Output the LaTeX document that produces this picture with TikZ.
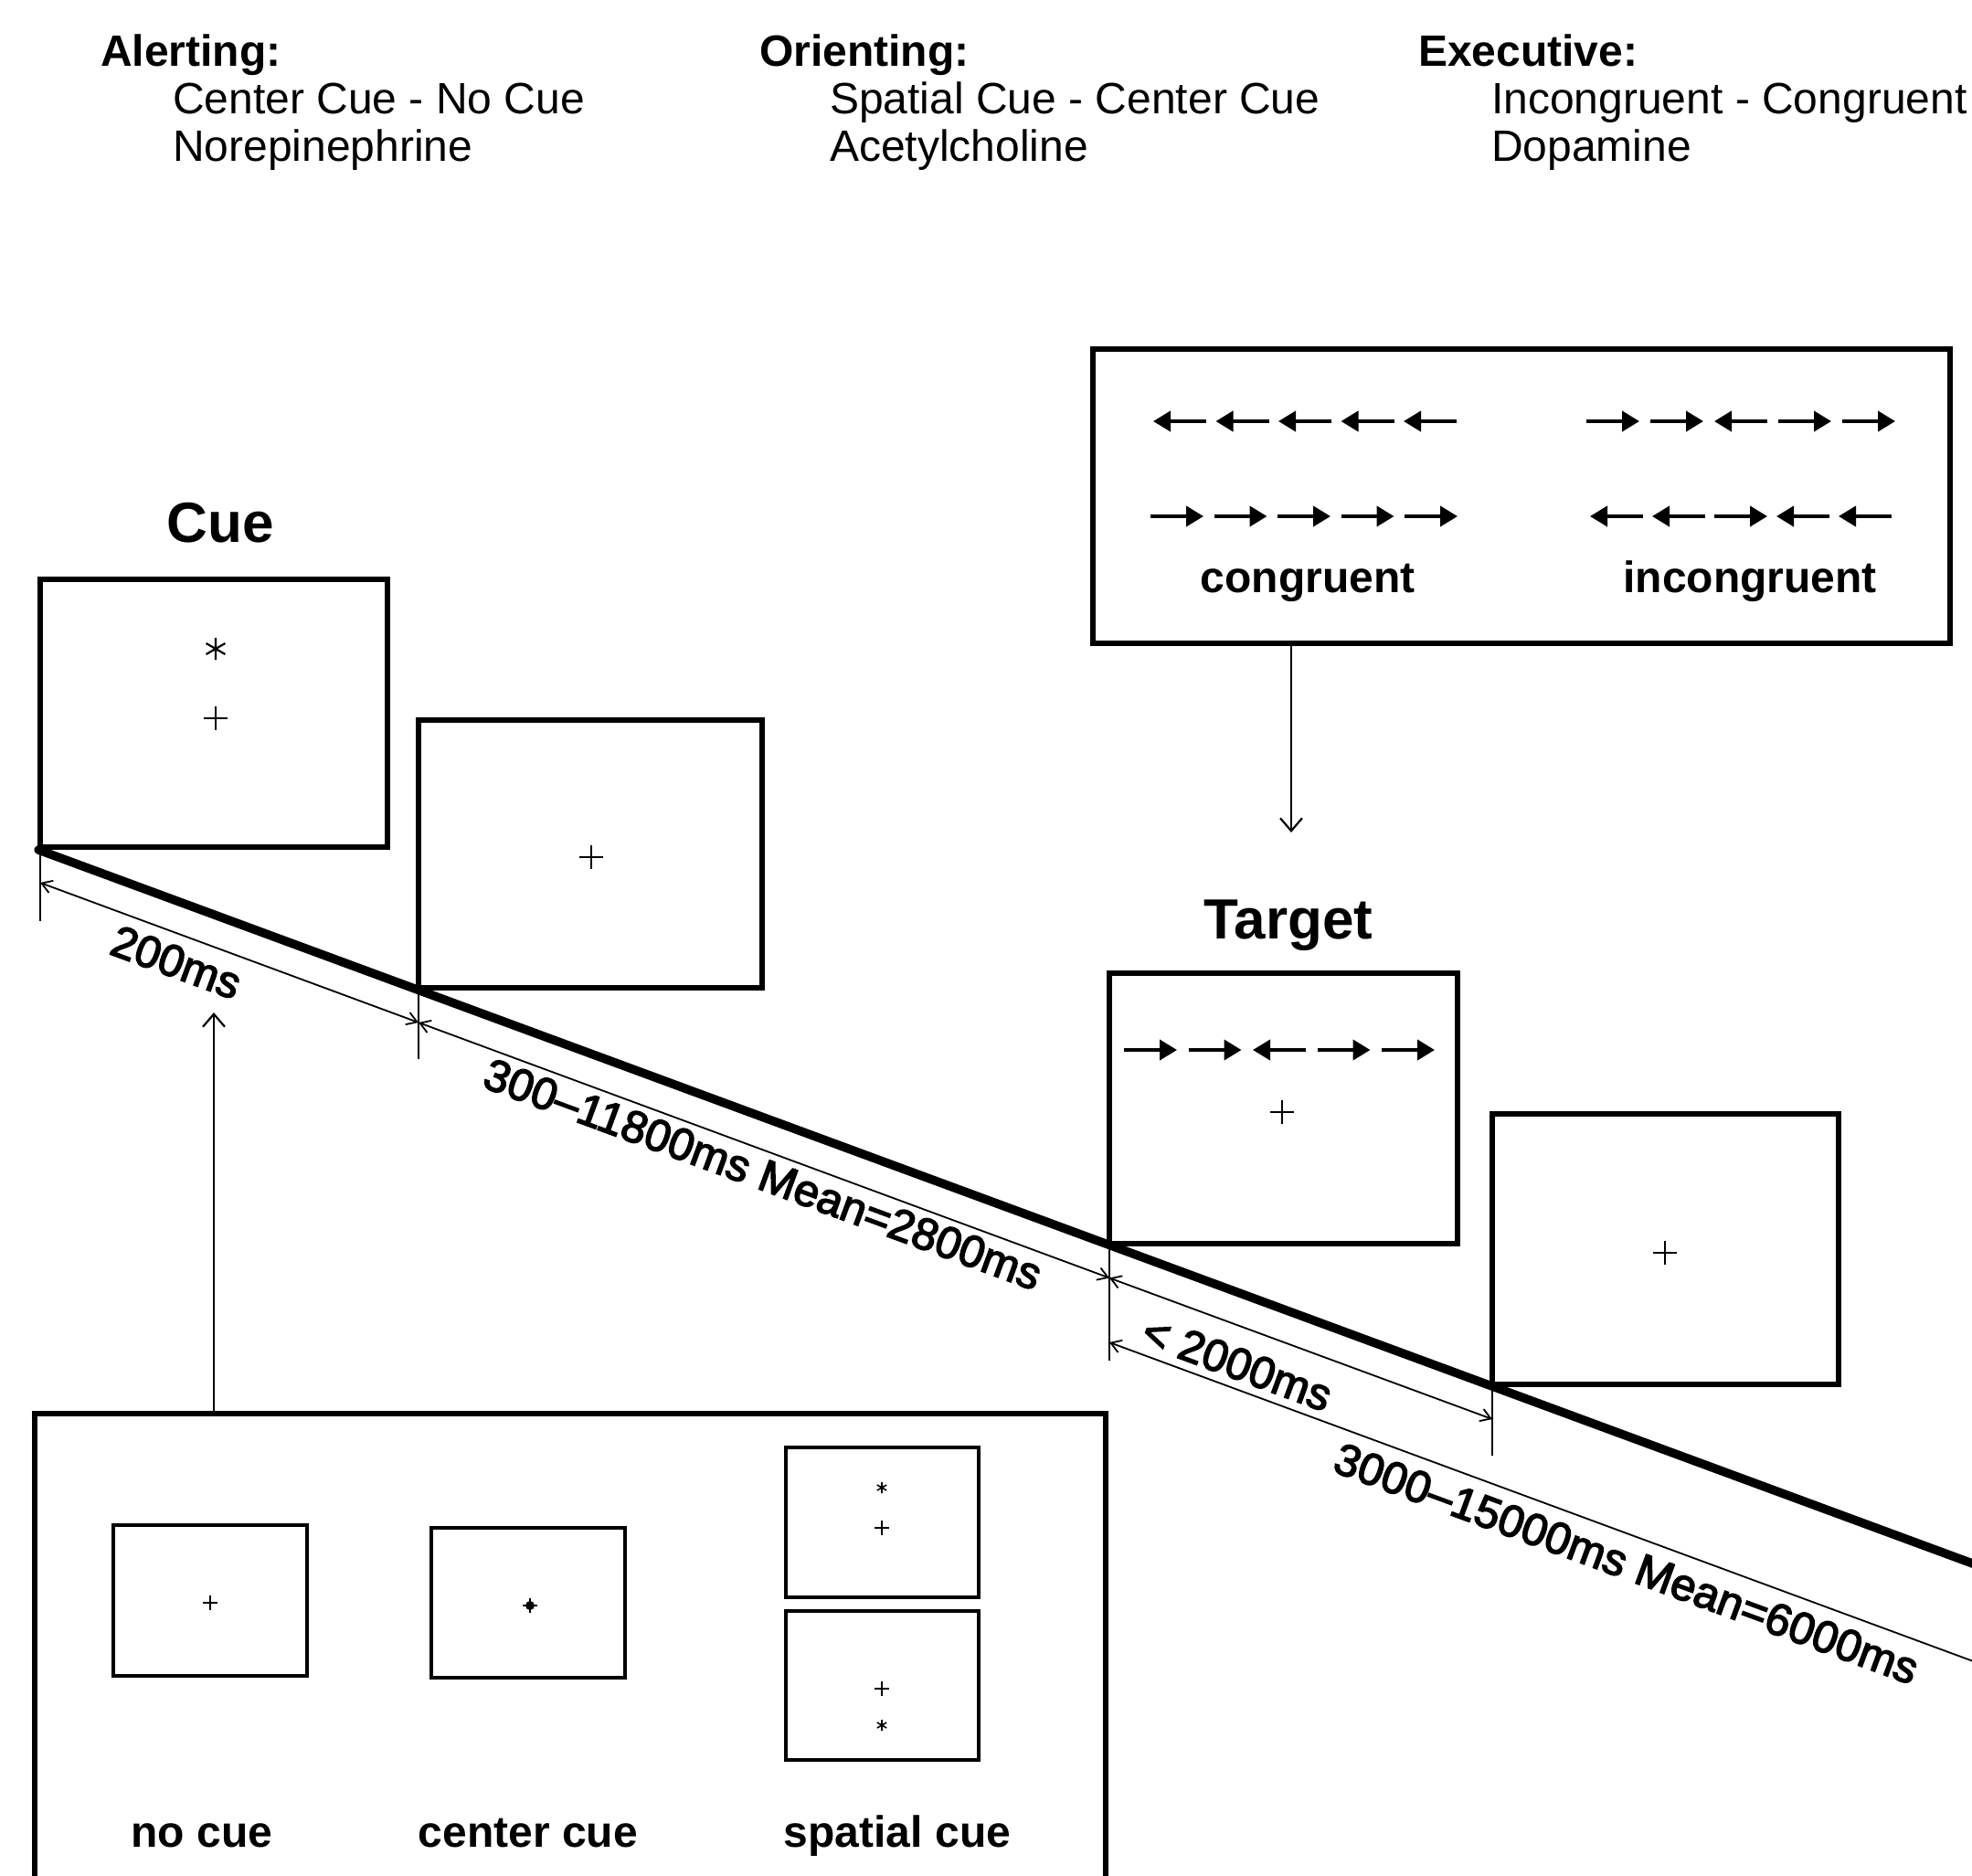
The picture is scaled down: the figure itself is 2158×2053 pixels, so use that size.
\documentclass[tikz,border=0pt]{standalone}
\usepackage{fontspec}
\setmainfont{Liberation Sans}
\newfontfamily\medfont[FakeBold=3]{Liberation Sans}
\usetikzlibrary{arrows.meta}
\newcommand\drawplus[4]{\draw[line width=#4] (#1,#2) +(-#3,0) -- +(#3,0) +(0,-#3) -- +(0,#3);}
\newcommand\drawast[4]{\draw[line width=#4] (#1,#2) +(90:#3) -- +(270:#3) +(30:#3) -- +(210:#3) +(150:#3) -- +(330:#3);}
\newcommand\flankrow[4]{\foreach \d [count=\i from 0] in {#4} {\draw[flk] ({#1+\i*#3-(\d)*29},#2) -- ({#1+\i*#3+(\d)*29},#2);}}
\tikzset{
  stim/.style={draw, line width=5.5pt, inner sep=0pt, outer sep=0pt, anchor=north west},
  smallbox/.style={stim, line width=4pt},
  flk/.style={line width=4pt, -{Triangle[length=19pt,width=22pt]}},
  conn/.style={line width=2.2pt, -{Straight Barb[length=14pt,width=24pt]}},
  dimline/.style={line width=1.8pt, >={Straight Barb[length=11pt,width=14pt]}, <->},
  dimleft/.style={line width=1.8pt, >={Straight Barb[length=11pt,width=14pt]}, <-},
  tick/.style={line width=2pt},
  timeline/.style={line width=9.5pt, line cap=round},
  hd/.style={font=\fontsize{48}{52}\selectfont, inner sep=0pt, anchor=base west},
  lbl/.style={font=\fontsize{48}{52}\selectfont\bfseries, inner sep=0pt, anchor=base},
  biglbl/.style={font=\fontsize{62}{70}\selectfont\bfseries, inner sep=0pt, anchor=base},
  dimlbl/.style={font=\medfont\fontsize{49}{52}\selectfont, inner sep=0pt, rotate=-20.25}
}
\begin{document}
\begin{tikzpicture}[x=1pt,y=-1pt]
\fill[white] (0,0) rectangle (2158,2053);
\useasboundingbox (0,0) rectangle (2158,2053);
\clip (0,0) rectangle (2158,2053);

% header texts
\node[hd] (alert) at (110,72) {\bfseries Alerting:};
\node[hd] (alert1) at (189,124) {Center Cue - No Cue};
\node[hd] (alert2) at (189,176) {Norepinephrine};
\node[hd] (orient) at (831,72) {\bfseries Orienting:};
\node[hd] (orient1) at (908,124) {Spatial Cue - Center Cue};
\node[hd] (orient2) at (908,176) {Acetylcholine};
\node[hd] (exec) at (1552,72) {\bfseries Executive:};
\node[hd] (exec1) at (1632,124) {Incongruent - Congruent};
\node[hd] (exec2) at (1632,176) {Dopamine};

% timeline points
\coordinate (L0) at (42,930);
\coordinate (L1) at (458,1083.5);
\coordinate (L2) at (1214,1362.5);
\coordinate (L3) at (1633,1517);
\coordinate (Lend) at (2200,1726.3);

% stimulus boxes
\node[stim, minimum width=380pt, minimum height=293pt] (cuebox) at (44,634) {};
\node[stim, minimum width=376pt, minimum height=293pt] (box2) at (458,788) {};
\node[stim, minimum width=381pt, minimum height=296pt] (tgtbox) at (1214,1065) {};
\node[stim, minimum width=379pt, minimum height=296pt] (box4) at (1633,1219) {};
\node[stim, minimum width=938pt, minimum height=322pt] (flanker) at (1196,382) {};
\node[stim, minimum width=1172pt, minimum height=560pt] (cuetypes) at (38,1547) {};

% labels
\node[biglbl] (cuelbl) at (241,593) {Cue};
\node[biglbl] (tgtlbl) at (1410,1027) {Target};

% box contents
\drawast{236}{710}{12}{2.2pt}
\drawplus{236}{786}{13}{2.2pt}
\drawplus{647}{938}{13}{2.2pt}
\drawplus{1403}{1217}{13}{2.2pt}
\drawplus{1822}{1371}{13}{2.2pt}
\flankrow{1259}{1149}{70.5}{1,1,-1,1,1}

% flanker panel
\flankrow{1291}{461}{68.5}{-1,-1,-1,-1,-1}
\flankrow{1288}{565}{69.5}{1,1,1,1,1}
\flankrow{1765}{461}{70}{1,1,-1,1,1}
\flankrow{1769}{565}{68}{-1,-1,1,-1,-1}
\node[lbl] (cong) at (1431,648) {congruent};
\node[lbl] (incong) at (1915,648) {incongruent};

% cue types panel
\node[smallbox, minimum width=212pt, minimum height=165pt] (nocue) at (124,1669) {};
\node[smallbox, minimum width=212pt, minimum height=164pt] (ccue) at (472,1672) {};
\node[smallbox, minimum width=211pt, minimum height=164pt] (sp1) at (860,1584) {};
\node[smallbox, minimum width=211pt, minimum height=163pt] (sp2) at (860,1763) {};
\drawplus{230}{1754}{8}{1.6pt}
\drawplus{580}{1757}{8}{2.4pt}
\fill (580,1757) circle (5);
\drawast{965}{1628}{6}{1.6pt}
\drawplus{965}{1672}{8}{2pt}
\drawplus{965}{1848}{8}{2pt}
\drawast{965}{1888}{6}{1.6pt}
\node[lbl] (nocuelbl) at (221,2021) {no cue};
\node[lbl] (ccuelbl) at (578,2021) {center cue};
\node[lbl] (spcuelbl) at (982,2021) {spatial cue};

% connectors
\coordinate (cuetip) at (234,1108);
\coordinate (flanktip) at (1413,911);
\draw[conn] (cuetip |- cuetypes.north) -- (cuetip);
\draw[conn] (flanktip |- flanker.south) -- (flanktip);

% timeline
\draw[timeline] (L0) -- (Lend);

% ticks
\draw[tick] (44,930) -- (44,1008);
\draw[tick] (458,1083) -- (458,1159);
\draw[tick] (1214,1362) -- (1214,1489);
\draw[tick] (1633,1517) -- (1633,1593);

% dimension lines
\coordinate (D0) at (44,966);
\coordinate (D1) at (458,1119);
\coordinate (D2) at (1214,1398.5);
\coordinate (D3) at (1633,1553);
\coordinate (E2) at (1214,1469);
\coordinate (Eend) at (2200,1833);
\draw[dimline] (D0) -- (D1);
\draw[dimline] (D1) -- (D2);
\draw[dimline] (D2) -- (D3);
\draw[dimleft] (E2) -- (Eend);

\node[dimlbl] (l200) at (193,1053) {200ms};
\node[dimlbl] (l300) at (835,1285) {300–11800ms Mean=2800ms};
\node[dimlbl] (l2000) at (1354,1492) {< 2000ms};
\node[dimlbl] (l3000) at (1780,1711) {3000–15000ms Mean=6000ms};
\end{tikzpicture}
\end{document}
